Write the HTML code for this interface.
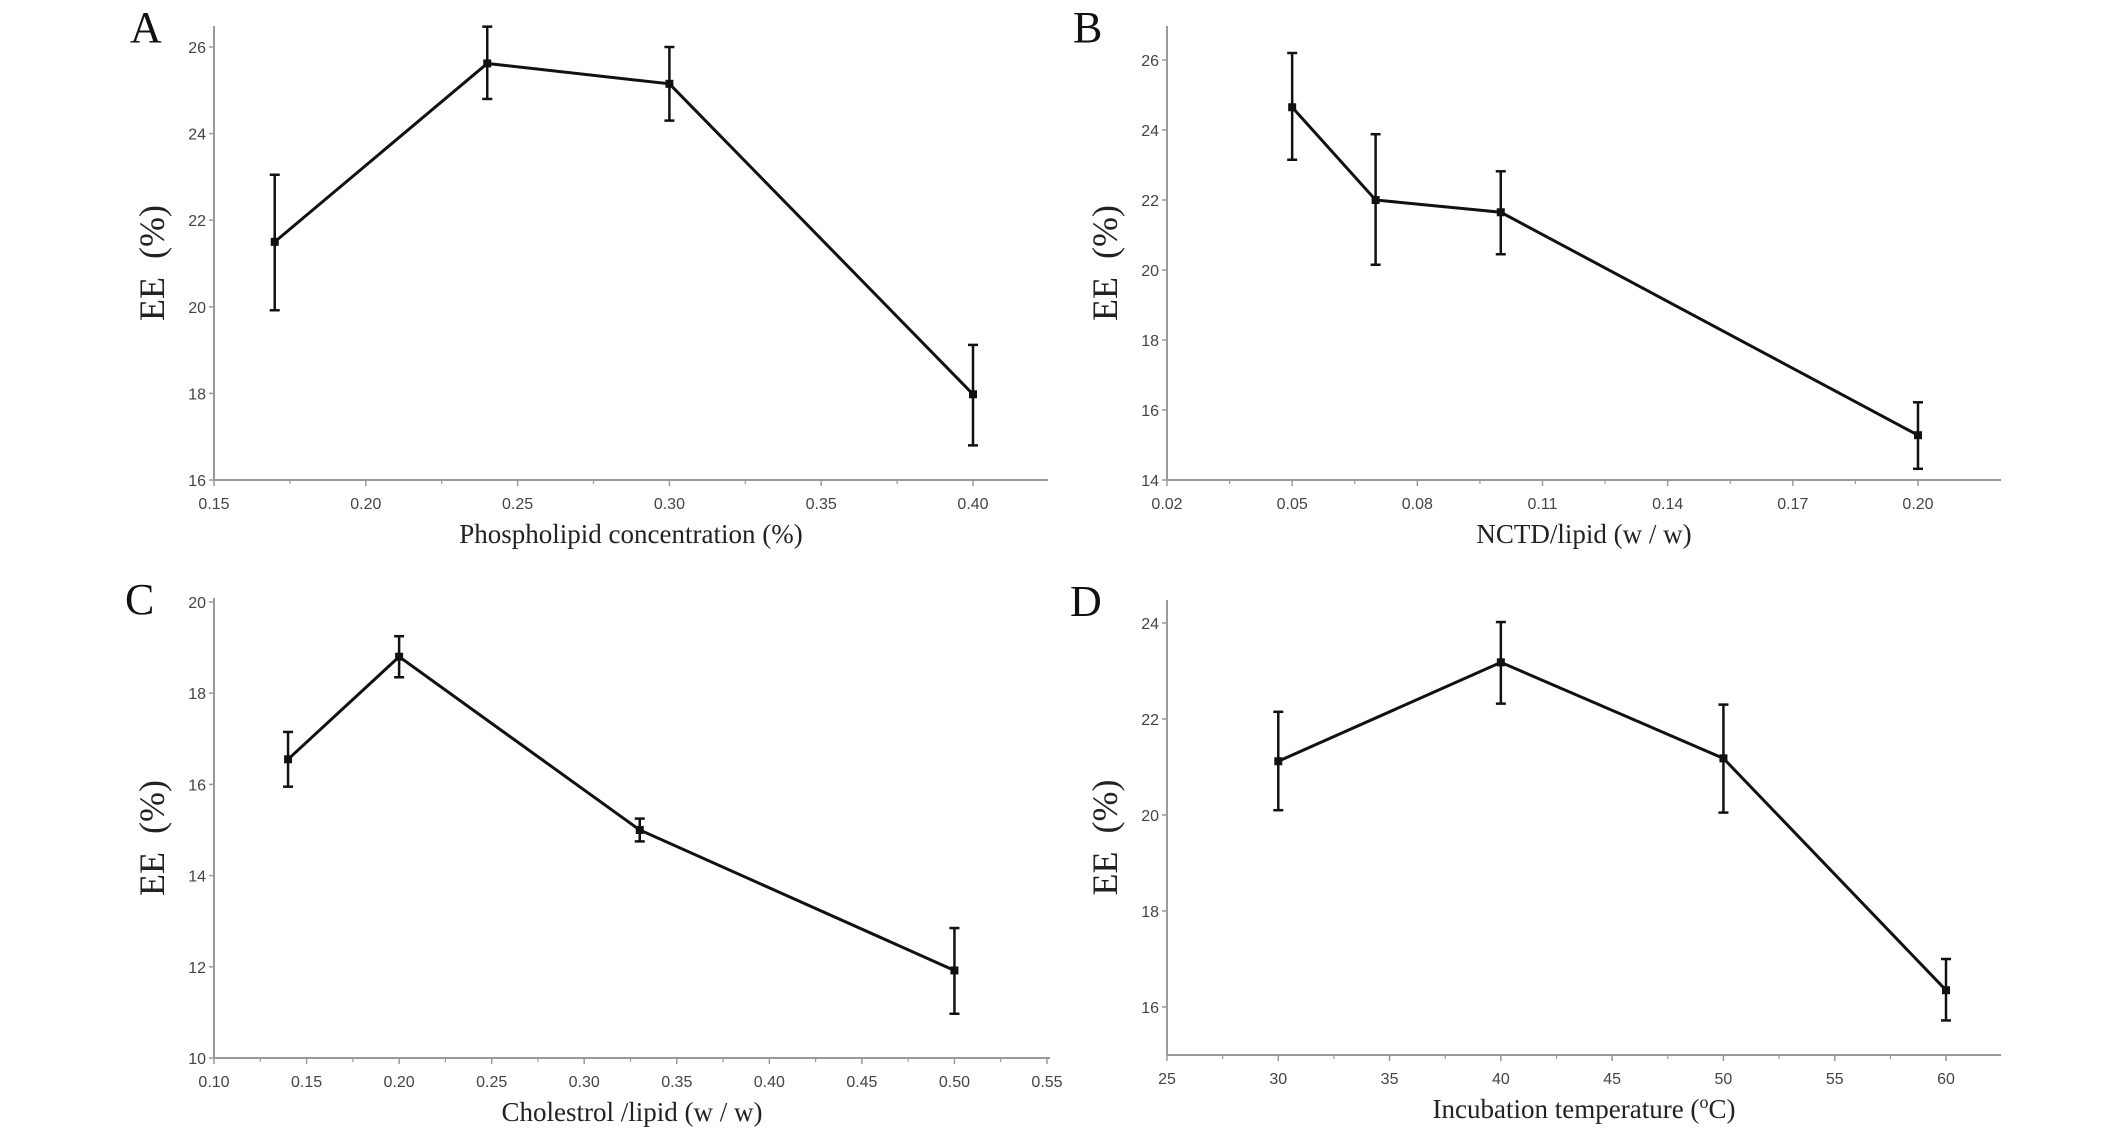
<!DOCTYPE html>
<html><head><meta charset="utf-8">
<style>
html,body{margin:0;padding:0;background:#fff;}
svg{display:block;}
.tick{font-family:"Liberation Sans",sans-serif;font-size:16px;fill:#444;}
.title{font-family:"Liberation Serif",serif;font-size:27px;fill:#222;}
.ytitle{font-family:"Liberation Serif",serif;font-size:36px;fill:#222;}
.letter{font-family:"Liberation Serif",serif;font-size:44px;fill:#111;}
</style></head>
<body>
<svg id="chart" width="2126" height="1139" viewBox="0 0 2126 1139" xmlns="http://www.w3.org/2000/svg"></svg>
<script>
const aX=[0.17,0.24,0.30,0.40];
const aY=[21.5,25.62,25.15,17.98];
const aHi=[23.05,26.47,26.0,19.12];
const aLo=[19.92,24.8,24.3,16.8];
const aXTicks=[0.15,0.20,0.25,0.30,0.35,0.40];
const aXLabels=["0.15","0.20","0.25","0.30","0.35","0.40"];
const aYTicks=[16,18,20,22,24,26];

const bX=[0.05,0.07,0.10,0.20];
const bY=[24.65,22.0,21.65,15.28];
const bHi=[26.2,23.88,22.82,16.22];
const bLo=[23.15,20.15,20.45,14.32];
const bXTicks=[0.02,0.05,0.08,0.11,0.14,0.17,0.20];
const bXLabels=["0.02","0.05","0.08","0.11","0.14","0.17","0.20"];
const bYTicks=[14,16,18,20,22,24,26];

const cX=[0.14,0.20,0.33,0.50];
const cY=[16.55,18.8,15.0,11.92];
const cHi=[17.15,19.25,15.25,12.85];
const cLo=[15.95,18.35,14.75,10.97];
const cXTicks=[0.10,0.15,0.20,0.25,0.30,0.35,0.40,0.45,0.50,0.55];
const cXLabels=["0.10","0.15","0.20","0.25","0.30","0.35","0.40","0.45","0.50","0.55"];
const cYTicks=[10,12,14,16,18,20];

const dX=[30,40,50,60];
const dY=[21.12,23.18,21.18,16.35];
const dHi=[22.15,24.02,22.3,17.0];
const dLo=[20.1,22.32,20.05,15.72];
const dXTicks=[25,30,35,40,45,50,55,60];
const dXLabels=["25","30","35","40","45","50","55","60"];
const dYTicks=[16,18,20,22,24];

const svg=document.getElementById('chart');
const NS='http://www.w3.org/2000/svg';
function mk(tag,attrs,parent){const e=document.createElementNS(NS,tag);for(const k in attrs)e.setAttribute(k,attrs[k]);parent.appendChild(e);return e;}

function panel(cfg){
  const g=mk('g',{},svg);
  
  
  const sx=v=>cfg.x0px+(v-cfg.x0v)*(cfg.x1px-cfg.x0px)/(cfg.x1v-cfg.x0v);
  const sy=v=>cfg.y0px+(v-cfg.y0v)*(cfg.y1px-cfg.y0px)/(cfg.y1v-cfg.y0v);
  const ax=cfg.x0px, ay=cfg.axisY;
  const yaxis=mk('line',{x1:ax,y1:cfg.topY,x2:ax,y2:ay,stroke:'#999','stroke-width':2},g);
  
  const xaxis=mk('line',{x1:ax,y1:ay,x2:cfg.rightX,y2:ay,stroke:'#999','stroke-width':2},g);
  
  cfg.xt.forEach((v,i)=>{
    const x=sx(v);
    mk('line',{x1:x,y1:ay,x2:x,y2:ay+6,stroke:'#999','stroke-width':1.5},g);
    if(i<cfg.xt.length-1){const xm=(x+sx(cfg.xt[i+1]))/2;mk('line',{x1:xm,y1:ay,x2:xm,y2:ay+4,stroke:'#999','stroke-width':1.2},g);}
    const t=mk('text',{x:x,y:ay+29,'text-anchor':'middle',class:'tick'},g);
    t.textContent=cfg.xl[i];
    
  });
  cfg.yt.forEach(v=>{
    const y=sy(v);
    mk('line',{x1:ax-5,y1:y,x2:ax,y2:y,stroke:'#999','stroke-width':1.5},g);
    const t=mk('text',{x:ax-8,y:y+6,'text-anchor':'end',class:'tick'},g);
    t.textContent=String(v);
    
  });
  const pts=cfg.xs.map((v,i)=>sx(v)+','+sy(cfg.ys[i])).join(' ');
  const pl=mk('polyline',{points:pts,fill:'none',stroke:'#111','stroke-width':3},g);
  
  cfg.xs.forEach((v,i)=>{
    const x=sx(v);
    const eb=mk('g',{stroke:'#111','stroke-width':2.5},g);
    
    mk('line',{x1:x,y1:sy(cfg.hi[i]),x2:x,y2:sy(cfg.lo[i])},eb);
    mk('line',{x1:x-5,y1:sy(cfg.hi[i]),x2:x+5,y2:sy(cfg.hi[i])},eb);
    mk('line',{x1:x-5,y1:sy(cfg.lo[i]),x2:x+5,y2:sy(cfg.lo[i])},eb);
    const p=mk('rect',{x:x-4,y:sy(cfg.ys[i])-4,width:8,height:8,fill:'#111'},g);
    
  });
  const L=mk('text',{x:cfg.letterX,y:cfg.topY+16,class:'letter'},g);
  L.textContent=cfg.letter;
  const yt=mk('text',{x:0,y:0,class:'ytitle','text-anchor':'middle',transform:`translate(${ax-50},${(cfg.topY+ay)/2+10}) rotate(-90)`},g);
  yt.textContent='EE\u2002(%)';
  const xt=mk('text',{x:(ax+cfg.rightX)/2,y:ay+63,class:'title','text-anchor':'middle'},g);
  xt.innerHTML=cfg.xtitle;
}

panel({letter:'A',letterX:130,x0px:214,x1px:973,x0v:0.15,x1v:0.40,y0px:480,y1px:47,y0v:16,y1v:26,axisY:480,topY:26,rightX:1048,
  xt:aXTicks,xl:aXLabels,yt:aYTicks,xs:aX,ys:aY,hi:aHi,lo:aLo,xtitle:'Phospholipid concentration (%)'});
panel({letter:'B',letterX:1073,x0px:1167,x1px:1918,x0v:0.02,x1v:0.20,y0px:480,y1px:60,y0v:14,y1v:26,axisY:480,topY:26,rightX:2001,
  xt:bXTicks,xl:bXLabels,yt:bYTicks,xs:bX,ys:bY,hi:bHi,lo:bLo,xtitle:'NCTD/lipid (w / w)'});
panel({letter:'C',letterX:125,x0px:214,x1px:1047,x0v:0.10,x1v:0.55,y0px:1058,y1px:602,y0v:10,y1v:20,axisY:1058,topY:598,rightX:1050,
  xt:cXTicks,xl:cXLabels,yt:cYTicks,xs:cX,ys:cY,hi:cHi,lo:cLo,xtitle:'Cholestrol /lipid (w / w)'});
panel({letter:'D',letterX:1070,x0px:1167,x1px:1946,x0v:25,x1v:60,y0px:1007,y1px:623,y0v:16,y1v:24,axisY:1055,topY:600,rightX:2001,
  xt:dXTicks,xl:dXLabels,yt:dYTicks,xs:dX,ys:dY,hi:dHi,lo:dLo,xtitle:'Incubation temperature (<tspan baseline-shift="super" font-size="18">o</tspan>C)'});
</script>
</body></html>
